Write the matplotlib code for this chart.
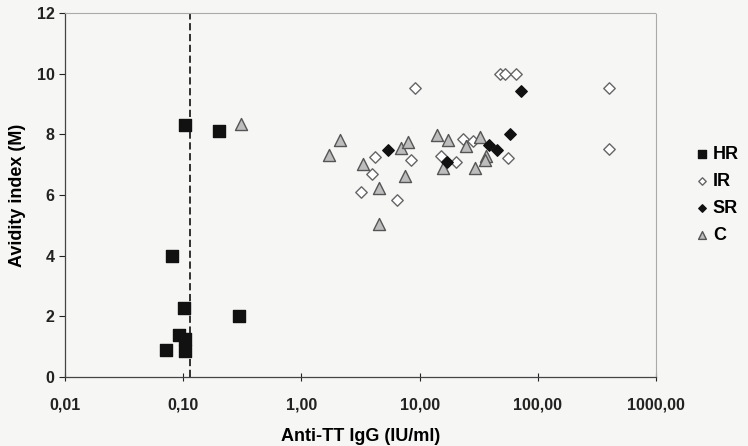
import matplotlib.pyplot as plt

plt.rcParams['font.family'] = ['Liberation Sans', 'DejaVu Sans']
plt.rcParams['font.weight'] = 'bold'

# HR group
hr_x = [0.103, 0.20, 0.081, 0.102, 0.297, 0.092, 0.103, 0.071, 0.103]
hr_y = [8.3, 8.1, 4.0, 2.28, 2.0, 1.38, 1.25, 0.9, 0.85]

# IR group
ir_x = [4.23, 3.99, 3.22, 8.41, 6.49, 47.5, 52.4, 65.8, 9.1, 23.3, 28.2, 15.3, 20.5, 55.9, 404, 399]
ir_y = [7.24, 6.69, 6.11, 7.14, 5.82, 10.0, 10.0, 10.0, 9.53, 7.85, 7.77, 7.27, 7.07, 7.22, 9.53, 7.53]

# SR group
sr_x = [5.41, 71.6, 57.8, 38.6, 45.4, 17.1]
sr_y = [7.47, 9.44, 8.01, 7.66, 7.49, 7.07]

# C group
c_x = [0.307, 2.11, 1.72, 3.34, 4.54, 4.54, 6.89, 7.98, 7.48,
       13.9, 17.4, 24.8, 15.8, 29.2, 32.2, 36.7, 35.5]
c_y = [8.35, 7.82, 7.33, 7.03, 6.23, 5.05, 7.55, 7.74, 6.61,
       7.96, 7.82, 7.6, 6.89, 6.89, 7.91, 7.27, 7.16]

cutoff = 0.113
xticks = [0.01, 0.1, 1, 10, 100, 1000]
xtick_labels = ['0,01', '0,10', '1,00', '10,00', '100,00', '1000,00']
yticks = [0, 2, 4, 6, 8, 10, 12]

bg = '#f6f6f4'
fig = plt.figure(figsize=(7.48, 4.46), dpi=100, facecolor=bg)
ax = fig.add_axes([0.087, 0.155, 0.79, 0.816], facecolor=bg)

ax.axvline(cutoff, color='#222222', linestyle=(0, (4, 2)), linewidth=1.3, zorder=1)

ax.scatter(hr_x, hr_y, marker='s', s=64, color='#111111', label='HR', zorder=3)
ax.scatter(ir_x, ir_y, marker='D', s=34, facecolor='white', edgecolor='#666666',
           linewidths=1.0, label='IR', zorder=3)
ax.scatter(sr_x, sr_y, marker='D', s=34, color='#111111', label='SR', zorder=4)
ax.scatter(c_x, c_y, marker='^', s=75, facecolor='#bdbdbd', edgecolor='#555555',
           linewidths=1.0, label='C', zorder=3)

ax.set_xscale('log')
ax.set_xlim(0.01, 1000)
ax.set_ylim(0, 12)
ax.set_xticks(xticks)
ax.set_xticklabels(xtick_labels)
ax.minorticks_off()
ax.set_yticks(yticks)
ax.tick_params(axis='both', labelsize=11.5, colors='#222222', length=4, width=0.8)
ax.tick_params(axis='x', direction='inout', length=6, pad=12)

for side in ['top', 'right']:
    ax.spines[side].set_linestyle((0, (1, 1)))
    ax.spines[side].set_color('#aaaaaa')
    ax.spines[side].set_linewidth(0.8)
for side in ['left', 'bottom']:
    ax.spines[side].set_color('#444444')
    ax.spines[side].set_linewidth(0.9)

ax.set_xlabel('Anti-TT IgG (IU/ml)', fontsize=13, fontweight='bold', labelpad=11)
ax.set_ylabel('Avidity index (M)', fontsize=13, fontweight='bold', labelpad=8)

ax.legend(loc='center left', bbox_to_anchor=(1.035, 0.5), frameon=False,
          fontsize=13, handletextpad=0.1, labelspacing=0.55, markerscale=0.65,
          handlelength=1.0)

fig.savefig('out.png', dpi=100, facecolor=bg)
